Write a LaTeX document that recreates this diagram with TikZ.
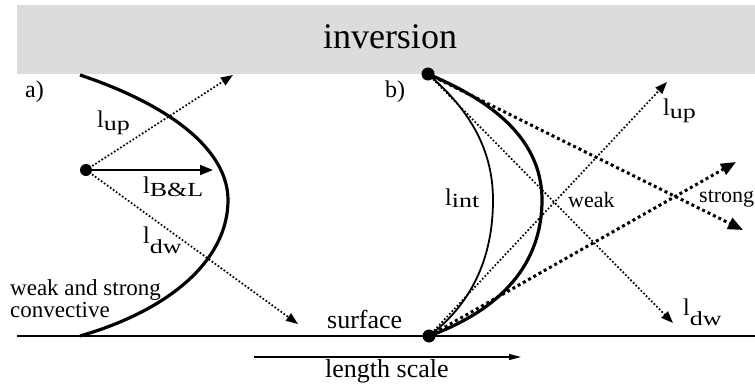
\documentclass[tikz,border=0pt]{standalone}
\usepackage{fontspec}
\usepackage{graphicx}
\setmainfont{Liberation Serif}
\usetikzlibrary{arrows.meta}
\definecolor{band}{RGB}{220,220,220}
\newcommand\lsym[2]{{\fontsize{24}{24}\selectfont l}\raisebox{-#1pt}{\fontsize{20}{20}\selectfont\scalebox{1.3}[1]{#2}}}
\begin{document}
\begin{tikzpicture}[x=1pt,y=-1pt,
  dot/.style={circle,fill,inner sep=0pt,minimum size=12pt},
  thinline/.style={line width=1.8pt},
  thickline/.style={line width=3.2pt},
  dotarrow/.style={line width=1.7pt,dash pattern=on 1.7pt off 2pt,-{Triangle[length=12pt,width=9pt]}},
  bigdotarrow/.style={line width=3pt,dash pattern=on 3pt off 3pt,-{Triangle[length=15pt,width=12pt]}},
  lbl/.style={inner sep=0pt,anchor=base west,font=\fontsize{24}{24}\selectfont},
  txt/.style={inner sep=0pt,anchor=base west,font=\fontsize{22}{22}\selectfont}]
\useasboundingbox (0,0) rectangle (755,383);
% inversion band
\fill[band] (17,5) rectangle (755,74);
\node[inner sep=0pt,anchor=base,font=\fontsize{36}{36}\selectfont] (inv) at (390,48) {inversion};
% surface
\draw[line width=2.5pt] (17,336) -- (755,336);
% length scale arrow
\coordinate (ls1) at (254,357);
\coordinate (ls2) at (521,357);
\draw[line width=1.2pt,-{Triangle[length=12pt,width=6pt]}] (ls1) -- (ls2);
\node[inner sep=0pt,anchor=base west,font=\fontsize{26}{26}\selectfont] (lsc) at (325,377) {length scale};
\node[inner sep=0pt,anchor=base west,font=\fontsize{26}{26}\selectfont] (surf) at (327,328) {surface};

% ---------- panel a ----------
\node[lbl] (la) at (25,97) {a)};
\draw[thickline] (80,75) .. controls (170,105) and (228,150) .. (228,200)
                 .. controls (228,260) and (170,310) .. (80,336);
\node[dot] (A) at (86,170) {};
\coordinate (Aup) at (233,75);
\coordinate (Abl) at (213,170);
\coordinate (Adw) at (298,324);
\draw[dotarrow] (A.center) -- (Aup);
\draw[dotarrow] (A.center) -- (Adw);
\draw[line width=2pt,-{Triangle[length=13pt,width=10pt]}] (A.center) -- (Abl);
\node[lbl] (lupa) at (97,127) {\lsym{3}{up}};
\node[lbl] (lbl) at (143,193) {\lsym{3}{B\&L}};
\node[lbl] (ldwa) at (143,243) {\lsym{10}{dw}};
\node[inner sep=0pt,anchor=base west,font=\fontsize{23}{23}\selectfont] (ws) at (10,295) {weak and strong};
\node[inner sep=0pt,anchor=base west,font=\fontsize{23}{23}\selectfont] (cv) at (10,317) {convective};

% ---------- panel b ----------
\node[lbl] (lb) at (385,97) {b)};
\node[dot,minimum size=13pt] (T) at (428,74) {};
\node[dot,minimum size=13pt] (S) at (429,336) {};
\draw[thinline] (T.center) .. controls (470,110) and (493,150) .. (493,200)
                .. controls (493,260) and (470,305) .. (S.center);
\draw[thickline] (T.center) .. controls (485,98) and (542,135) .. (542,200)
                 .. controls (542,265) and (500,310) .. (S.center);
\coordinate (Bupw) at (667,82);
\coordinate (Bdww) at (673,323);
\coordinate (Bups) at (736,162);
\coordinate (Bdws) at (743,230);
\draw[dotarrow] (T.center) -- (Bdww);
\draw[dotarrow] (S.center) -- (Bupw);
\draw[bigdotarrow] (T.center) -- (Bdws);
\draw[bigdotarrow] (S.center) -- (Bups);
\node[lbl] (lint) at (445,205) {\lsym{2}{int}};
\node[lbl] (lupb) at (663,115) {\lsym{3}{up}};
\node[lbl] (ldwb) at (683,315) {\lsym{10}{dw}};
\node[txt] (weak) at (568,207) {weak};
\node[txt] (strong) at (699,202) {strong};
\end{tikzpicture}
\end{document}
